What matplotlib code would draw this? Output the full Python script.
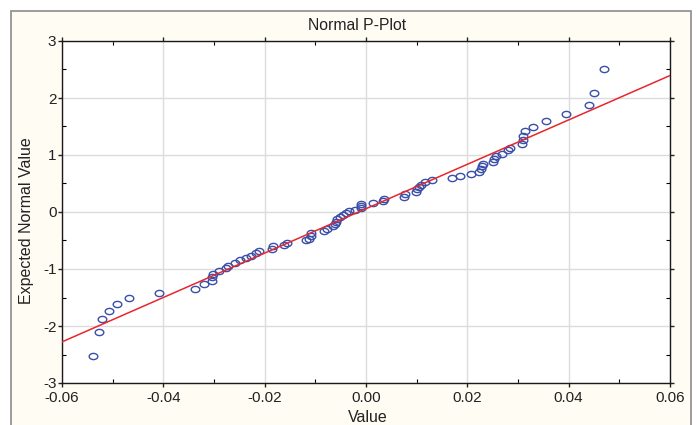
import numpy as np
import matplotlib
matplotlib.use('Agg')
import matplotlib.pyplot as plt
from matplotlib.path import Path
from matplotlib.transforms import Affine2D
from matplotlib.patches import Rectangle

plt.rcParams['font.family'] = ['Liberation Sans', 'DejaVu Sans']
plt.rcParams['axes.unicode_minus'] = False

values = [-0.05398, -0.05269, -0.05204, -0.05076, -0.04924, -0.04687, -0.04081, -0.03371,
          -0.03201, -0.03049, -0.03039, -0.03014, -0.02907, -0.02763, -0.02733, -0.02585,
          -0.02487, -0.02374, -0.02276, -0.02177, -0.02102, -0.01855, -0.01845, -0.01614,
          -0.01565, -0.01188, -0.01131, -0.01095, -0.01076, -0.00835, -0.00776, -0.00651,
          -0.00612, -0.00598, -0.00566, -0.00513, -0.00460, -0.00395, -0.00335, -0.00217,
          -0.00105, -0.00105, -0.00099, 0.00144, 0.00345, 0.00355, 0.00750, 0.00770,
          0.00987, 0.01007, 0.01046, 0.01095, 0.01164, 0.01297, 0.01697, 0.01855,
          0.02066, 0.02224, 0.02266, 0.02299, 0.02315, 0.02497, 0.02530, 0.02566,
          0.02694, 0.02812, 0.02842, 0.03073, 0.03089, 0.03098, 0.03148, 0.03296,
          0.03546, 0.03941, 0.04395, 0.04500, 0.04697]
expected = [-2.528, -2.103, -1.885, -1.739, -1.612, -1.503, -1.424, -1.349,
            -1.267, -1.206, -1.135, -1.092, -1.030, -0.978, -0.939, -0.890,
            -0.850, -0.815, -0.767, -0.724, -0.689, -0.654, -0.605, -0.571,
            -0.545, -0.499, -0.466, -0.421, -0.370, -0.342, -0.303, -0.251,
            -0.216, -0.168, -0.128, -0.088, -0.046, -0.011, 0.018, 0.042,
            0.074, 0.109, 0.144, 0.166, 0.196, 0.231, 0.266, 0.310,
            0.354, 0.407, 0.445, 0.482, 0.533, 0.564, 0.596, 0.626,
            0.669, 0.701, 0.757, 0.801, 0.841, 0.876, 0.927, 0.976,
            1.016, 1.081, 1.128, 1.190, 1.256, 1.326, 1.414, 1.489,
            1.602, 1.712, 1.870, 2.092, 2.514]

# reference line: expected = intercept + slope * value
line_intercept = 0.058
line_slope = 38.94

x_ticks = [-0.06, -0.04, -0.02, 0.00, 0.02, 0.04, 0.06]
y_ticks = [-3, -2, -1, 0, 1, 2, 3]

fig = plt.figure(figsize=(6.97, 4.25), dpi=100)
fig.patch.set_facecolor('white')
frame = Rectangle((11 / 697, -0.05), 680 / 697, 1.05 - 11 / 425,
                  transform=fig.transFigure, facecolor='#fffcf3',
                  edgecolor='#8c8c8c', linewidth=1.2, zorder=-5)
fig.patches.append(frame)

ax = fig.add_axes([62 / 697, 1 - 383 / 425, 608 / 697, 342 / 425])
ax.set_facecolor('white')

ellipse = Path.unit_circle().transformed(Affine2D().scale(1, 0.72))
ax.plot(values, expected, linestyle='none', marker=ellipse, markersize=6.2,
        markerfacecolor='none', markeredgecolor='#3a4fa8', markeredgewidth=1.0, zorder=3)

xl = np.array([-0.06, 0.06])
ax.plot(xl, line_intercept + line_slope * xl, color='#e8262c', linewidth=1.1, zorder=4)

ax.set_xlim(-0.06, 0.06)
ax.set_ylim(-3, 3)
ax.set_xticks(x_ticks)
ax.set_xticklabels(['%.2f' % t for t in x_ticks])
ax.set_yticks(y_ticks)
ax.set_xticks(np.arange(-0.05, 0.06, 0.02), minor=True)
ax.set_yticks(np.arange(-2.5, 3.0, 1.0), minor=True)
ax.grid(True, which='major', color='#dcdcdc', linewidth=1.0)
ax.set_axisbelow(True)
ax.tick_params(which='major', direction='out', length=3, width=1, labelsize=11,
               colors='#222222', top=True, right=True, labeltop=False, labelright=False)
ax.tick_params(axis='x', which='major', pad=3)
ax.tick_params(axis='y', which='major', pad=1)
ax.tick_params(which='minor', direction='in', length=3, width=0.8, top=True, right=True)
for s in ax.spines.values():
    s.set_color('#1a1a1a')
    s.set_linewidth(1.0)

fig.text(357.5 / 697, 1 - 26 / 425, 'Normal P-Plot', ha='center', va='center', fontsize=11.3, color='#222222')
fig.text(367.5 / 697, 1 - 418 / 425, 'Value', ha='center', va='center', fontsize=11.5, color='#222222')
fig.text(27 / 697, 1 - 221 / 425, 'Expected Normal Value', ha='center', va='center',
         rotation=90, fontsize=11.5, color='#222222')

fig.savefig('out.png', dpi=100)
